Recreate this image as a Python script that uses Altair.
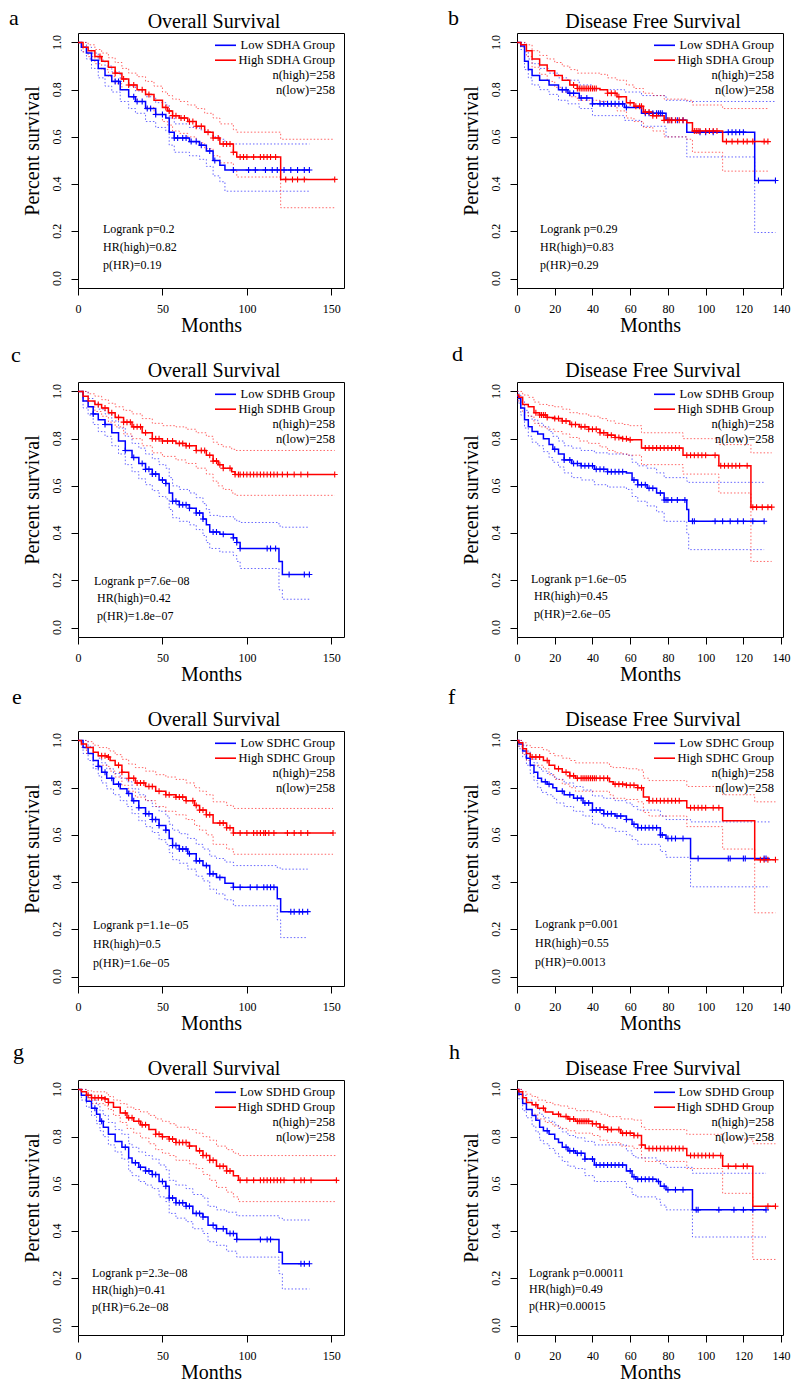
import altair as alt
import pandas as pd

FONT = "Liberation Serif"
W, H = 266, 255
BLUE, RED = "#0000ff", "#ff0000"

# ---------------- data ----------------
# a : Overall survival, SDHA
a_low_t = [0, 2, 5, 8, 12, 16, 20, 25, 30, 34, 40, 46, 52, 54, 57, 66, 72, 76, 80, 84, 87]
a_low_s = [1.0, .98, .955, .925, .89, .86, .835, .80, .77, .75, .72, .695, .68, .62, .595, .58, .565, .54, .50, .48, .46]
a_low_hi = [1.0, 1.0, .98, .955, .925, .90, .875, .845, .815, .795, .77, .745, .735, .68, .655, .64, .63, .62, .60, .59, .57]
a_low_lo = [1.0, .96, .93, .89, .85, .815, .79, .75, .72, .70, .665, .64, .625, .565, .535, .52, .505, .475, .435, .41, .37]
a_low_end = 137
a_low_cens = [22, 24, 33, 35, 38, 41, 43, 46, 50, 57, 59, 62, 64, 67, 70, 73, 78, 81, 92, 101, 105, 111, 115, 118, 122, 126, 130, 134, 137]
a_high_t = [0, 3, 6, 10, 14, 18, 22, 26, 30, 35, 40, 45, 50, 53, 56, 60, 65, 70, 75, 80, 84, 92, 94, 120]
a_high_s = [1, .98, .965, .94, .92, .895, .87, .845, .82, .80, .78, .755, .725, .71, .69, .68, .665, .645, .62, .595, .57, .535, .515, .42]
a_high_hi = [1, 1, .99, .97, .955, .935, .915, .89, .87, .855, .835, .815, .79, .775, .76, .75, .735, .72, .70, .68, .655, .63, .62, .59]
a_high_lo = [1, .96, .94, .91, .885, .855, .825, .80, .77, .75, .725, .695, .665, .65, .625, .615, .60, .575, .55, .52, .49, .455, .43, .30]
a_high_end = 152
a_high_cens = [13, 22, 27, 30, 33, 38, 42, 52, 54, 56, 58, 61, 63, 66, 68, 70, 73, 77, 80, 83, 86, 88, 90, 92, 96, 98, 100, 104, 108, 110, 112, 114, 117, 123, 127, 130, 134, 152]

# b : Disease free survival, SDHA
b_low_t = [0, 2, 4, 6, 8, 12, 17, 22, 27, 33, 40, 57, 66, 79, 90, 126]
b_low_s = [1, .985, .92, .885, .86, .84, .82, .80, .785, .765, .74, .725, .70, .67, .62, .415]
b_low_hi = [1, 1, .96, .93, .91, .89, .87, .85, .84, .82, .80, .79, .775, .755, .75, .75]
b_low_lo = [1, .97, .885, .85, .82, .80, .78, .755, .74, .72, .69, .67, .645, .60, .515, .195]
b_low_end = 137
b_low_cens = [24, 26, 28, 30, 34, 37, 40, 44, 46, 48, 50, 52, 54, 56, 58, 68, 70, 72, 74, 75, 76, 77, 80, 82, 85, 88, 97, 100, 104, 112, 114, 116, 118, 120, 128, 137]
b_high_t = [0, 2, 5, 8, 12, 16, 20, 24, 28, 32, 44, 48, 53, 58, 62, 67, 72, 78, 90, 93, 109]
b_high_s = [1, .99, .965, .93, .905, .88, .86, .84, .82, .805, .80, .785, .77, .745, .73, .705, .69, .67, .66, .625, .58]
b_high_hi = [1, 1, .99, .965, .945, .93, .915, .90, .885, .87, .865, .85, .84, .82, .805, .785, .775, .76, .755, .735, .72]
b_high_lo = [1, .98, .94, .895, .865, .835, .81, .79, .77, .755, .75, .73, .71, .68, .665, .64, .625, .60, .59, .535, .455]
b_high_end = 133
b_high_cens = [30, 32, 33, 34, 35, 36, 37, 38, 39, 40, 41, 42, 48, 50, 52, 54, 60, 63, 65, 66, 68, 70, 72, 74, 78, 80, 81, 82, 84, 86, 88, 94, 95, 96, 97, 100, 102, 104, 106, 111, 114, 117, 120, 122, 125, 131, 133]

# c : Overall survival, SDHB
c_low_t = [0, 3, 6, 9, 12, 16, 20, 24, 28, 32, 36, 40, 44, 48, 52, 54, 56, 60, 66, 70, 74, 76, 78, 84, 92, 94, 96, 119, 121]
c_low_s = [1, .96, .935, .905, .88, .86, .825, .79, .75, .72, .695, .67, .65, .625, .61, .57, .535, .52, .505, .485, .46, .435, .405, .395, .38, .36, .335, .28, .225]
c_low_hi = [1, 1, .97, .95, .925, .905, .875, .845, .81, .78, .76, .735, .715, .69, .675, .635, .60, .585, .57, .55, .525, .50, .475, .47, .46, .45, .445, .43, .425]
c_low_lo = [1, .93, .90, .86, .83, .81, .77, .735, .69, .66, .63, .605, .58, .555, .545, .50, .465, .45, .435, .415, .39, .36, .335, .32, .305, .28, .25, .16, .12]
c_low_end = 137
c_low_cens = [9, 16, 28, 33, 38, 40, 42, 44, 46, 50, 52, 56, 58, 60, 62, 64, 66, 70, 72, 74, 80, 82, 86, 92, 94, 96, 112, 114, 117, 125, 134, 137]
c_high_t = [0, 3, 6, 10, 14, 18, 22, 27, 32, 38, 44, 50, 58, 64, 70, 76, 80, 83, 86, 91, 93]
c_high_s = [1, .98, .96, .945, .93, .91, .89, .87, .85, .825, .80, .79, .78, .77, .75, .73, .705, .69, .675, .66, .648]
c_high_hi = [1, 1, .99, .98, .965, .95, .935, .92, .905, .885, .865, .855, .85, .84, .825, .81, .785, .775, .765, .755, .75]
c_high_lo = [1, .96, .935, .915, .895, .87, .85, .82, .80, .77, .74, .725, .71, .695, .675, .65, .62, .60, .585, .57, .56]
c_high_end = 152
c_high_cens = [12, 16, 20, 24, 27, 29, 31, 33, 35, 37, 40, 44, 46, 48, 50, 53, 56, 60, 62, 64, 66, 70, 73, 75, 78, 80, 82, 84, 86, 90, 93, 95, 96, 98, 100, 102, 104, 106, 108, 110, 112, 114, 116, 118, 121, 124, 128, 132, 136, 152]

# d : Disease free survival, SDHB
d_low_t = [0, 1, 2, 4, 6, 8, 11, 14, 17, 19, 22, 25, 29, 34, 41, 48, 58, 61, 64, 69, 74, 78, 90, 91]
d_low_s = [.98, .97, .93, .88, .85, .83, .82, .80, .775, .755, .735, .71, .695, .685, .67, .66, .655, .625, .605, .59, .57, .54, .50, .45]
d_low_hi = [1, .985, .96, .92, .895, .88, .865, .85, .83, .81, .79, .77, .76, .75, .74, .735, .73, .70, .685, .675, .655, .635, .62, .615]
d_low_lo = [.96, .95, .90, .845, .81, .785, .77, .745, .72, .70, .68, .655, .635, .625, .605, .595, .585, .555, .535, .515, .49, .45, .40, .33]
d_low_end = 131
d_low_cens = [20, 25, 28, 30, 32, 34, 36, 38, 40, 42, 44, 46, 48, 50, 52, 54, 56, 62, 64, 66, 68, 70, 72, 76, 78, 79, 80, 82, 85, 89, 93, 94, 105, 109, 113, 117, 120, 125, 131]
d_high_t = [0, 1, 3, 6, 9, 12, 16, 20, 24, 28, 33, 38, 44, 48, 52, 56, 59, 66, 88, 107, 124]
d_high_s = [.985, .975, .945, .935, .91, .90, .89, .885, .875, .86, .85, .84, .825, .815, .805, .80, .795, .76, .73, .685, .51]
d_high_hi = [1, 1, .985, .975, .955, .945, .94, .935, .925, .91, .905, .895, .885, .875, .865, .86, .855, .825, .80, .775, .74]
d_high_lo = [.97, .955, .91, .895, .865, .85, .84, .83, .82, .805, .79, .78, .765, .75, .74, .735, .73, .69, .65, .57, .28]
d_high_end = 135
d_high_cens = [10, 12, 13, 14, 15, 16, 20, 22, 24, 26, 29, 31, 34, 36, 38, 40, 42, 44, 46, 48, 50, 52, 54, 56, 58, 60, 68, 70, 72, 74, 76, 78, 80, 82, 84, 86, 90, 92, 94, 96, 98, 100, 105, 108, 110, 112, 114, 116, 118, 122, 125, 127, 130, 133, 135]

# e : Overall survival, SDHC
e_low_t = [0, 3, 6, 9, 12, 14, 17, 21, 25, 29, 32, 36, 40, 44, 48, 52, 54, 56, 60, 65, 70, 74, 78, 82, 87, 92, 118, 120]
e_low_s = [1, .97, .945, .915, .89, .865, .84, .815, .795, .775, .745, .715, .69, .665, .64, .62, .585, .555, .54, .52, .49, .47, .435, .42, .395, .378, .33, .275]
e_low_hi = [1, 1, .975, .95, .925, .905, .88, .86, .84, .825, .795, .77, .745, .72, .70, .68, .645, .62, .605, .585, .56, .54, .51, .50, .485, .47, .46, .455]
e_low_lo = [1, .945, .915, .88, .85, .82, .795, .77, .745, .72, .69, .66, .635, .61, .58, .56, .525, .495, .48, .455, .425, .405, .37, .35, .325, .30, .24, .165]
e_low_end = 136
e_low_cens = [12, 16, 20, 24, 30, 33, 36, 40, 42, 44, 46, 48, 52, 56, 58, 60, 62, 64, 66, 70, 72, 76, 78, 80, 84, 92, 96, 102, 106, 110, 112, 114, 116, 126, 128, 131, 133, 136]
e_high_t = [0, 2, 5, 9, 12, 17, 19, 22, 26, 30, 34, 40, 46, 52, 58, 64, 69, 72, 76, 80, 88, 92]
e_high_s = [1, .985, .97, .95, .935, .93, .915, .895, .865, .84, .82, .805, .785, .77, .76, .745, .725, .705, .685, .65, .63, .608]
e_high_hi = [1, 1, .995, .98, .97, .965, .955, .94, .92, .90, .885, .87, .855, .845, .835, .82, .80, .785, .77, .74, .725, .712]
e_high_lo = [1, .97, .945, .915, .895, .89, .87, .845, .81, .785, .76, .745, .72, .70, .685, .665, .64, .62, .60, .56, .54, .518]
e_high_end = 151
e_high_cens = [14, 16, 18, 24, 26, 30, 33, 35, 37, 39, 42, 44, 48, 52, 54, 58, 60, 62, 64, 68, 70, 72, 74, 76, 78, 84, 86, 88, 90, 92, 96, 100, 104, 106, 108, 110, 111, 113, 116, 124, 128, 132, 136, 151]

# f : Disease free survival, SDHC
f_low_t = [0, 1, 3, 5, 7, 9, 11, 13, 16, 19, 21, 25, 30, 35, 40, 46, 52, 58, 61, 64, 76, 79, 92]
f_low_s = [1, .985, .955, .925, .895, .865, .84, .825, .815, .80, .785, .77, .755, .735, .705, .69, .68, .665, .645, .63, .60, .585, .50]
f_low_hi = [1, 1, .98, .955, .93, .905, .885, .87, .86, .845, .835, .82, .805, .79, .765, .755, .745, .735, .72, .705, .68, .665, .655]
f_low_lo = [1, .965, .93, .895, .86, .83, .80, .78, .77, .755, .735, .72, .70, .68, .645, .63, .615, .60, .58, .56, .53, .505, .38]
f_low_end = 134
f_low_cens = [15, 17, 24, 28, 32, 34, 36, 38, 40, 42, 44, 46, 48, 50, 53, 55, 58, 62, 64, 66, 68, 70, 72, 74, 76, 77, 80, 82, 84, 88, 96, 112, 113, 120, 121, 131, 132]
f_high_t = [0, 1, 3, 5, 7, 14, 17, 20, 24, 28, 31, 49, 51, 58, 64, 67, 70, 90, 109, 126]
f_high_s = [1, .99, .965, .945, .93, .915, .895, .88, .865, .85, .84, .825, .815, .81, .80, .76, .745, .715, .66, .495]
f_high_hi = [1, 1, .99, .98, .97, .96, .945, .935, .925, .915, .905, .89, .885, .88, .875, .84, .83, .805, .77, .74]
f_high_lo = [1, .975, .94, .915, .895, .88, .855, .835, .815, .80, .785, .77, .755, .75, .74, .695, .68, .635, .54, .27]
f_high_end = 137
f_high_cens = [8, 10, 12, 16, 22, 26, 28, 30, 32, 34, 35, 36, 37, 38, 39, 40, 41, 42, 44, 46, 48, 52, 54, 56, 58, 60, 62, 64, 66, 70, 72, 74, 76, 78, 80, 82, 84, 86, 92, 94, 96, 98, 100, 104, 107, 129, 131, 133, 137]

# g : Overall survival, SDHD
g_low_t = [0, 2, 5, 8, 11, 13, 15, 18, 22, 26, 30, 32, 36, 40, 44, 48, 52, 54, 58, 64, 68, 74, 77, 82, 88, 94, 119, 121]
g_low_s = [1, .975, .95, .92, .895, .865, .84, .81, .78, .755, .71, .69, .67, .655, .64, .61, .59, .54, .52, .505, .475, .46, .425, .41, .39, .365, .31, .262]
g_low_hi = [1, 1, .98, .955, .935, .91, .89, .86, .83, .81, .77, .755, .735, .72, .705, .68, .66, .615, .595, .58, .555, .54, .505, .49, .48, .465, .455, .447]
g_low_lo = [1, .955, .925, .89, .855, .825, .80, .765, .735, .705, .655, .635, .61, .595, .58, .545, .525, .475, .455, .44, .41, .39, .355, .34, .315, .29, .22, .155]
g_low_end = 137
g_low_cens = [10, 14, 28, 34, 37, 40, 42, 44, 46, 50, 52, 54, 56, 58, 60, 62, 64, 66, 70, 72, 74, 80, 82, 86, 90, 92, 94, 108, 112, 114, 132, 134, 137]
g_high_t = [0, 2, 5, 8, 16, 18, 21, 25, 29, 33, 37, 42, 46, 50, 54, 58, 66, 70, 74, 78, 82, 88, 92, 95]
g_high_s = [1, .99, .975, .965, .96, .945, .925, .90, .88, .865, .85, .83, .81, .80, .79, .775, .76, .74, .72, .70, .675, .655, .635, .615]
g_high_hi = [1, 1, .995, .99, .985, .97, .955, .94, .925, .915, .905, .89, .875, .865, .855, .84, .83, .815, .80, .785, .76, .745, .73, .72]
g_high_lo = [1, .975, .955, .94, .93, .915, .89, .86, .835, .815, .795, .77, .745, .73, .72, .70, .685, .665, .64, .615, .585, .565, .545, .525]
g_high_end = 153
g_high_cens = [6, 8, 10, 12, 14, 16, 18, 28, 30, 32, 36, 38, 40, 46, 48, 50, 54, 56, 58, 60, 62, 64, 66, 72, 74, 76, 78, 80, 84, 86, 88, 90, 96, 100, 104, 108, 110, 112, 114, 116, 118, 120, 122, 128, 132, 134, 138, 153]

# h : Disease free survival, SDHD
h_low_t = [0, 1, 3, 5, 8, 10, 12, 14, 17, 20, 22, 24, 27, 31, 36, 41, 58, 61, 63, 74, 76, 79, 93]
h_low_s = [1, .98, .94, .915, .89, .87, .84, .825, .81, .79, .775, .755, .74, .73, .705, .68, .655, .63, .62, .61, .59, .575, .49]
h_low_hi = [1, 1, .975, .955, .935, .92, .895, .88, .865, .85, .835, .82, .805, .795, .78, .765, .74, .72, .71, .70, .685, .67, .645]
h_low_lo = [1, .96, .91, .88, .845, .82, .785, .77, .75, .73, .715, .695, .675, .665, .635, .61, .585, .555, .545, .535, .51, .49, .375]
h_low_end = 132
h_low_cens = [16, 26, 28, 30, 32, 34, 36, 40, 42, 44, 46, 48, 50, 52, 54, 56, 60, 62, 64, 66, 68, 70, 72, 75, 78, 80, 84, 88, 95, 96, 107, 115, 120, 125, 132]
h_high_t = [0, 1, 3, 5, 8, 11, 15, 19, 23, 27, 31, 40, 44, 48, 55, 62, 66, 68, 90, 109, 125]
h_high_s = [1, .99, .965, .945, .935, .92, .905, .895, .885, .875, .865, .855, .84, .83, .815, .805, .765, .75, .72, .675, .505]
h_high_hi = [1, 1, .99, .98, .97, .955, .945, .935, .93, .92, .91, .905, .895, .885, .875, .87, .84, .83, .81, .79, .77]
h_high_lo = [1, .975, .94, .915, .895, .875, .86, .845, .835, .825, .815, .805, .785, .775, .76, .75, .71, .695, .665, .56, .28]
h_high_end = 137
h_high_cens = [10, 14, 22, 26, 28, 30, 32, 33, 34, 35, 36, 37, 38, 40, 42, 44, 46, 48, 50, 54, 56, 58, 60, 62, 64, 66, 70, 72, 74, 76, 78, 80, 82, 84, 86, 88, 92, 94, 96, 98, 100, 102, 104, 108, 112, 116, 120, 122, 133, 137]

letters = ["a", "b", "c", "d", "e", "f", "g", "h"]
titles = ["Overall Survival", "Disease Free Survival"] * 4
genes = ["SDHA", "SDHA", "SDHB", "SDHB", "SDHC", "SDHC", "SDHD", "SDHD"]
n_high = [258] * 8
n_low = [258] * 8
logrank = ["Logrank p=0.2", "Logrank p=0.29", "Logrank p=7.6e\u221208", "Logrank p=1.6e\u221205",
           "Logrank p=1.1e\u221205", "Logrank p=0.001", "Logrank p=2.3e\u221208", "Logrank p=0.00011"]
hr_high = ["HR(high)=0.82", "HR(high)=0.83", "HR(high)=0.42", "HR(high)=0.45",
           "HR(high)=0.5", "HR(high)=0.55", "HR(high)=0.41", "HR(high)=0.49"]
p_hr = ["p(HR)=0.19", "p(HR)=0.29", "p(HR)=1.8e\u221207", "p(HR)=2.6e\u221205",
        "p(HR)=1.6e\u221205", "p(HR)=0.0013", "p(HR)=6.2e\u221208", "p(HR)=0.00015"]
y_ticks = [0.0, 0.2, 0.4, 0.6, 0.8, 1.0]
y_tick_labels = ["0.0", "0.2", "0.4", "0.6", "0.8", "1.0"]

G = globals()

# ---------------- layout/style (not data) ----------------
letter_dx = [-69, -69, -67, -65, -66, -69, -65, -68]
letter_dy = [-8, -8, -20, -21, -27, -27, -21, -21]
stats_dx = [(25, 25, 25), (23, 23, 23), (16, 19, 19), (14, 17, 17),
            (15, 15, 15), (18, 18, 18), (14, 14, 14), (12, 12, 12)]
stats_dy = [(196, 214, 232), (196, 214, 232), (199, 216, 234), (197, 214, 232),
            (194, 213, 232), (193, 212, 231), (193, 210, 227), (193, 209, 226)]
legend_dy = [12.3, 27.2, 42.0, 56.9]

dummy = pd.DataFrame({"d": [0]})
ylab_df = pd.DataFrame({"v": y_ticks, "lab": y_tick_labels})


def surv_at(ts, ss, x):
    v = ss[0]
    for t, s in zip(ts, ss):
        if t <= x:
            v = s
        else:
            break
    return v


def frames(letter):
    main, ci, cens = [], [], []
    for grp in ("low", "high"):
        t = G[f"{letter}_{grp}_t"]
        s = G[f"{letter}_{grp}_s"]
        hi = G[f"{letter}_{grp}_hi"]
        lo = G[f"{letter}_{grp}_lo"]
        end = G[f"{letter}_{grp}_end"]
        tt = list(t) + [end]
        for name, vals in (("s", s), ("hi", hi), ("lo", lo)):
            vv = list(vals) + [vals[-1]]
            for ti, vi in zip(tt, vv):
                row = {"t": ti, "v": vi, "grp": grp, "series": grp + name}
                (main if name == "s" else ci).append(row)
        for c in G[f"{letter}_{grp}_cens"]:
            cens.append({"t": c, "v": surv_at(t, s, c), "grp": grp})
    return pd.DataFrame(main), pd.DataFrame(ci), pd.DataFrame(cens)


def txt(text, x, y, size=12.5, align="left", baseline="middle"):
    return alt.Chart(dummy).mark_text(
        text=text, font=FONT, fontSize=size, align=align, baseline=baseline, color="black"
    ).encode(x=alt.value(x), y=alt.value(y))


def seg(y, color):
    return alt.Chart(dummy).mark_rule(color=color, strokeWidth=1.6).encode(
        x=alt.value(W - 129), x2=alt.value(W - 108), y=alt.value(y)
    )


def panel(i):
    L = letters[i]
    os_panel = titles[i] == "Overall Survival"
    main, ci, cens = frames(L)
    xmax = 157.5 if os_panel else 141
    xvals = [0, 50, 100, 150] if os_panel else [0, 20, 40, 60, 80, 100, 120, 140]
    xenc = alt.X("t:Q", scale=alt.Scale(domain=[0, xmax], nice=False, zero=False),
                 axis=alt.Axis(values=xvals, title="Months", labelPadding=8, labelFlush=False,
                               labelOverlap=False, titleBaseline="alphabetic", titleY=43))
    yenc = alt.Y("v:Q", scale=alt.Scale(domain=[-0.04, 1.04], nice=False, zero=False),
                 axis=alt.Axis(values=y_ticks, labels=False,
                               title="Percent survival", titleAngle=270, titleAlign="center",
                               titleBaseline="alphabetic", titleX=-39.5, titleY=H / 2 - 10))
    col = alt.Color("grp:N", scale=alt.Scale(domain=["low", "high"], range=[BLUE, RED]), legend=None)

    ci_layer = alt.Chart(ci).mark_line(interpolate="step-after", strokeDash=[1.5, 2],
                                       strokeWidth=1, opacity=0.6).encode(
        x=xenc, y=yenc, color=col, detail="series:N")
    main_layer = alt.Chart(main).mark_line(interpolate="step-after", strokeWidth=1.5).encode(
        x=xenc, y=yenc, color=col, detail="series:N")
    cens_layer = alt.Chart(cens).mark_point(shape="M-1,0L1,0M0,-1L0,1", size=36, filled=False,
                                            strokeWidth=1.1, opacity=1).encode(
        x=xenc, y=yenc, color=col)
    ylab_layer = alt.Chart(ylab_df).mark_text(
        angle=270, align="center", baseline="alphabetic", font=FONT, fontSize=12, color="black"
    ).encode(x=alt.value(-17), y=yenc, text="lab:N")

    g = genes[i]
    deco = [
        seg(legend_dy[0], BLUE), seg(legend_dy[1], RED),
        txt(f"Low {g} Group", W - 9, legend_dy[0], align="right"),
        txt(f"High {g} Group", W - 9, legend_dy[1], align="right"),
        txt(f"n(high)={n_high[i]}", W - 9, legend_dy[2], align="right"),
        txt(f"n(low)={n_low[i]}", W - 9, legend_dy[3], align="right"),
        txt(logrank[i], stats_dx[i][0], stats_dy[i][0], size=12),
        txt(hr_high[i], stats_dx[i][1], stats_dy[i][1], size=12),
        txt(p_hr[i], stats_dx[i][2], stats_dy[i][2], size=12),
        txt(titles[i], W / 2 + 3, -5.5, size=20, align="center", baseline="alphabetic"),
        txt(L, letter_dx[i], letter_dy[i], size=22, baseline="alphabetic"),
    ]
    return alt.layer(ci_layer, main_layer, cens_layer, ylab_layer, *deco).properties(width=W, height=H)


chart = alt.concat(*[panel(i) for i in range(8)], columns=2,
                   spacing={"row": 94, "column": 173}, bounds="flush").properties(
    padding={"left": 0, "top": -2, "right": 0, "bottom": -3}
).configure_view(stroke="black", strokeWidth=1).configure_axis(
    labelFont=FONT, labelFontSize=12, labelColor="black",
    titleFont=FONT, titleFontSize=20, titleFontWeight="normal", titleColor="black",
    tickColor="black", tickSize=7, tickWidth=1, domain=False, grid=False,
)

chart.save("out.html", embed_options={"renderer": "svg", "actions": False})
